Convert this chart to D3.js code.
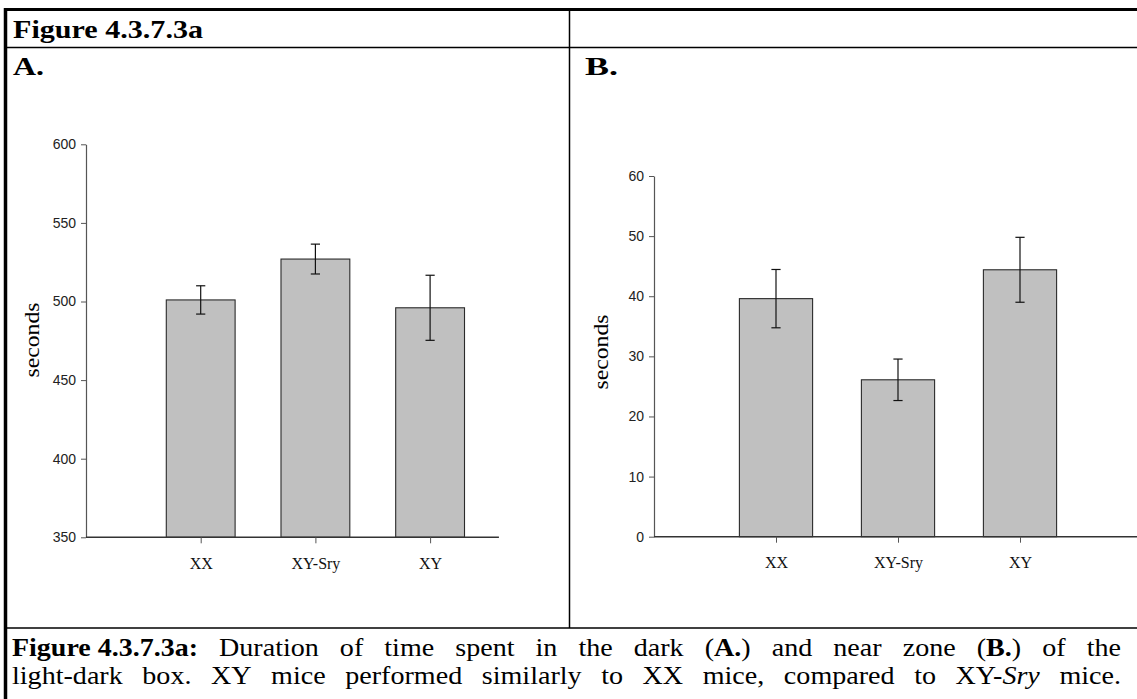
<!DOCTYPE html>
<html>
<head>
<meta charset="utf-8">
<script src="https://cdn.jsdelivr.net/npm/d3@7"></script>
<style>
  html, body { margin: 0; padding: 0; background: #fff; }
  svg { display: block; }
</style>
</head>
<body>
<svg id="fig" width="1137" height="699"></svg>
<script>
// ---- data ----
const categories = ["XX", "XY-Sry", "XY"];
const valuesA = [501, 527, 496];
const errorsA = [9, 9.5, 20.7];
const ticksA = [350, 400, 450, 500, 550, 600];
const valuesB = [39.6, 26.1, 44.4];
const errorsB = [4.85, 3.45, 5.4];
const ticksB = [0, 10, 20, 30, 40, 50, 60];
const figureTitle = "Figure 4.3.7.3a";
const panelLabels = ["A.", "B."];
const yLabel = "seconds";
const captionLines = [
  [[{t:"Figure 4.3.7.3a:", b:1}], [{t:"Duration"}], [{t:"of"}], [{t:"time"}], [{t:"spent"}], [{t:"in"}], [{t:"the"}], [{t:"dark"}],
   [{t:"("},{t:"A.",b:1},{t:")"}], [{t:"and"}], [{t:"near"}], [{t:"zone"}], [{t:"("},{t:"B.",b:1},{t:")"}], [{t:"of"}], [{t:"the"}]],
  [[{t:"light-dark"}], [{t:"box."}], [{t:"XY"}], [{t:"mice"}], [{t:"performed"}], [{t:"similarly"}], [{t:"to"}], [{t:"XX"}], [{t:"mice,"}],
   [{t:"compared"}], [{t:"to"}], [{t:"XY-"},{t:"Sry",i:1}], [{t:"mice."}]]
];

const svg = d3.select("#fig");
const serif = "'Liberation Serif', 'Times New Roman', serif";
const sans = "'Liberation Sans', Arial, sans-serif";

// ---- frame ----
const frame = svg.append("g").attr("stroke", "#000").attr("fill", "none");
frame.append("line").attr("x1", 4).attr("x2", 1137).attr("y1", 9.5).attr("y2", 9.5).attr("stroke-width", 3);
frame.append("line").attr("x1", 5.5).attr("x2", 5.5).attr("y1", 8).attr("y2", 699).attr("stroke-width", 3.5);
frame.append("line").attr("x1", 7).attr("x2", 1137).attr("y1", 47.5).attr("y2", 47.5).attr("stroke-width", 1.5);
frame.append("line").attr("x1", 569.5).attr("x2", 569.5).attr("y1", 11).attr("y2", 628).attr("stroke-width", 1.5);
frame.append("line").attr("x1", 7).attr("x2", 1137).attr("y1", 628).attr("y2", 628).attr("stroke-width", 1.5);

function boldText(x, y, size, len, txt) {
  svg.append("text").attr("x", x).attr("y", y).attr("font-family", serif).attr("font-weight", "bold")
    .attr("font-size", size).attr("textLength", len).attr("lengthAdjust", "spacingAndGlyphs").text(txt);
}
boldText(13, 38, 26, 190, figureTitle);
boldText(13, 75, 26, 31, panelLabels[0]);
boldText(585, 75, 26, 33, panelLabels[1]);

// ---- panels ----
function panel(cfg) {
  const g = svg.append("g");
  const y = d3.scaleLinear().domain(cfg.domain).range([cfg.yBottom, cfg.yTop]);
  const x = d3.scaleLinear().domain([0, 4]).range([cfg.x0, cfg.x0 + 4 * cfg.unit]);
  const bw = 0.6;

  g.selectAll("rect.bar").data(cfg.values).join("rect")
    .attr("x", (d, i) => x(i + 1 - bw / 2))
    .attr("width", x(bw) - x(0))
    .attr("y", d => y(d))
    .attr("height", d => y(cfg.domain[0]) - y(d))
    .attr("fill", "#c0c0c0").attr("stroke", "#2a2a2a").attr("stroke-width", 1.1);

  const eb = g.append("g").attr("stroke", "#111").attr("stroke-width", 1.2);
  cfg.values.forEach((v, i) => {
    const cx = x(i + 1), e = cfg.errors[i];
    eb.append("line").attr("x1", cx).attr("x2", cx).attr("y1", y(v + e)).attr("y2", y(v - e));
    eb.append("line").attr("x1", cx - 4.6).attr("x2", cx + 4.6).attr("y1", y(v + e)).attr("y2", y(v + e));
    eb.append("line").attr("x1", cx - 4.6).attr("x2", cx + 4.6).attr("y1", y(v - e)).attr("y2", y(v - e));
  });

  const ya = g.append("g").attr("transform", `translate(${cfg.x0},0)`)
    .call(d3.axisLeft(y).tickValues(cfg.ticks).tickSize(5).tickSizeOuter(0).tickPadding(5));
  ya.select(".domain").attr("stroke", "#555").attr("stroke-width", 1.2);
  ya.selectAll(".tick line").attr("stroke", "#555");
  ya.selectAll(".tick text").attr("font-family", sans).attr("font-size", 14).attr("fill", "#222");

  const xa = g.append("g").attr("transform", `translate(0,${cfg.yBottom})`)
    .call(d3.axisBottom(x).tickValues([1, 2, 3]).tickFormat(i => categories[i - 1]).tickSize(6).tickSizeOuter(0).tickPadding(14));
  xa.select(".domain").attr("d", `M${cfg.x0},0H${x(cfg.xEnd)}`).attr("stroke", "#333").attr("stroke-width", 1.5);
  xa.selectAll(".tick line").attr("stroke", "#555");
  xa.selectAll(".tick text").attr("font-family", serif).attr("font-size", 16).attr("fill", "#111");

  g.append("text").attr("transform", `translate(${cfg.labelX},${cfg.labelY}) rotate(-90)`)
    .attr("text-anchor", "middle").attr("font-family", serif).attr("font-size", 21)
    .attr("textLength", 75).attr("lengthAdjust", "spacingAndGlyphs").text(yLabel);
}

panel({values: valuesA, errors: errorsA, ticks: ticksA, domain: [350, 600],
       x0: 86, unit: 114.7, yBottom: 537.3, yTop: 144.3, xEnd: 3.6, labelX: 39, labelY: 340});
panel({values: valuesB, errors: errorsB, ticks: ticksB, domain: [0, 60],
       x0: 654, unit: 122, yBottom: 536.7, yTop: 176, xEnd: 4, labelX: 608, labelY: 352});

// ---- caption (justified) ----
const capLeft = 12, capRight = 1121, capBase = [656, 684];
captionLines.forEach((words, li) => {
  const nodes = words.map((w, wi) => {
    const t = svg.append("text").attr("y", capBase[li]).attr("font-family", serif).attr("font-size", 26);
    w.forEach(s => t.append("tspan").attr("font-weight", s.b ? "bold" : "normal")
      .attr("font-style", s.i ? "italic" : "normal").text(s.t));
    const natural = t.node().getComputedTextLength();
    const len = (li === 0 && wi === 0) ? 186 : natural * 1.08;
    t.attr("textLength", len).attr("lengthAdjust", "spacingAndGlyphs");
    return {t, len};
  });
  const total = d3.sum(nodes, n => n.len);
  const gap = (capRight - capLeft - total) / (nodes.length - 1);
  let xx = capLeft;
  nodes.forEach(n => { n.t.attr("x", xx); xx += n.len + gap; });
});
</script>
</body>
</html>
